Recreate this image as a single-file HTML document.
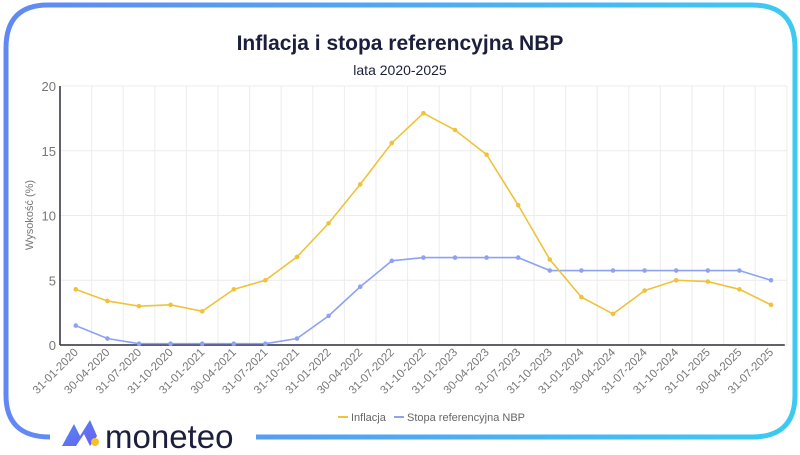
<!DOCTYPE html>
<html><head><meta charset="utf-8"><style>
body{margin:0;width:800px;height:450px;background:#fff;overflow:hidden;font-family:"Liberation Sans",sans-serif}
</style></head><body>
<svg width="800" height="450" xmlns="http://www.w3.org/2000/svg">
<defs><linearGradient id="fg" x1="0" x2="1"><stop offset="0" stop-color="#6388f4"/><stop offset="1" stop-color="#3ccaf2"/></linearGradient>
<linearGradient id="lg" x1="0" y1="0" x2="1" y2="1"><stop offset="0" stop-color="#4f8cf5"/><stop offset="1" stop-color="#6e5cf0"/></linearGradient></defs>
<path d="M50 437 Q6 437 6 395 L6 48 Q6 5 48 5 L752 5 Q795 5 795 48 L795 395 Q795 437 752 437 L256 437" fill="none" stroke="url(#fg)" stroke-width="5"/>
<text x="400" y="50" text-anchor="middle" font-size="21" font-weight="bold" fill="#1b1f3b">Inflacja i stopa referencyjna NBP</text>
<text x="400" y="75" text-anchor="middle" font-size="14" fill="#1b1f3b">lata 2020-2025</text>
<text transform="translate(33,215) rotate(-90)" text-anchor="middle" font-size="11" fill="#777">Wysokość (%)</text>
<g id="plot"></g>
<g font-size="11" fill="#666">
<line x1="338" y1="417" x2="348" y2="417" stroke="#f0c23a" stroke-width="2"/>
<text x="351" y="421">Inflacja</text>
<line x1="394" y1="417" x2="404" y2="417" stroke="#8fa2f2" stroke-width="2"/>
<text x="407" y="421">Stopa referencyjna NBP</text>
</g>
<g>
<path d="M62 446 L74 424 L80 436 L90 420 L97 436 L90 446 L84 434 L76 446 Z" fill="url(#lg)"/>
<circle cx="95" cy="442" r="4" fill="#f5c02a"/>
<text x="105" y="448" font-size="33" fill="#1b1f3b">moneteo</text>
</g>
</svg>
<script>
const categories=["31-01-2020","30-04-2020","31-07-2020","31-10-2020","31-01-2021","30-04-2021","31-07-2021","31-10-2021","31-01-2022","30-04-2022","31-07-2022","31-10-2022","31-01-2023","30-04-2023","31-07-2023","31-10-2023","31-01-2024","30-04-2024","31-07-2024","31-10-2024","31-01-2025","30-04-2025","31-07-2025"];
const inflacja=[4.3,3.4,3.0,3.1,2.6,4.3,5.0,6.8,9.4,12.4,15.6,17.9,16.6,14.7,10.8,6.6,3.7,2.4,4.2,5.0,4.9,4.3,3.1];
const stopa=[1.5,0.5,0.1,0.1,0.1,0.1,0.1,0.5,2.25,4.5,6.5,6.75,6.75,6.75,6.75,5.75,5.75,5.75,5.75,5.75,5.75,5.75,5.0];
const yTicks=[0,5,10,15,20];
const NS="http://www.w3.org/2000/svg";
const g=document.getElementById('plot');
const x0=60,bw=31.6,yTop=86,yBot=345,yMax=20;
const xs=i=>x0+bw*(i+0.5);
const ys=v=>yBot-(v/yMax)*(yBot-yTop);
function el(t,a){const e=document.createElementNS(NS,t);for(const k in a)e.setAttribute(k,a[k]);g.appendChild(e);return e;}
for(let i=1;i<=categories.length;i++){const l=el('line',{x1:x0+bw*i,x2:x0+bw*i,y1:yTop,y2:yBot,stroke:'#ececec'});

}
yTicks.forEach(v=>{const l=el('line',{x1:x0,x2:x0+bw*categories.length,y1:ys(v),y2:ys(v),stroke:'#ececec'});


const t=el('text',{x:x0-4,y:ys(v)+5,'text-anchor':'end','font-size':'13',fill:'#777'});t.textContent=v;

});
const ya=el('line',{x1:x0,x2:x0,y1:yTop,y2:yBot,stroke:'#2a2d3e','stroke-width':1.5});


const xa=el('line',{x1:x0,x2:x0+bw*categories.length-2,y1:yBot,y2:yBot,stroke:'#2a2d3e','stroke-width':1.5});


categories.forEach((c,i)=>{const t=el('text',{transform:`translate(${xs(i)+3},${yBot+8}) rotate(-45)`,'text-anchor':'end','font-size':'11.5',fill:'#777'});t.textContent=c+' ';

});
function series(d,col,name){const p=el('polyline',{points:d.map((v,i)=>xs(i)+','+ys(v)).join(' '),fill:'none',stroke:col,'stroke-width':1.6});


d.forEach((v,i)=>{const c=el('circle',{cx:xs(i),cy:ys(v),r:2.3,fill:col});

});}
series(stopa,'#8fa2f2','stopa');
series(inflacja,'#f0c23a','inflacja');
</script>
</body></html>
